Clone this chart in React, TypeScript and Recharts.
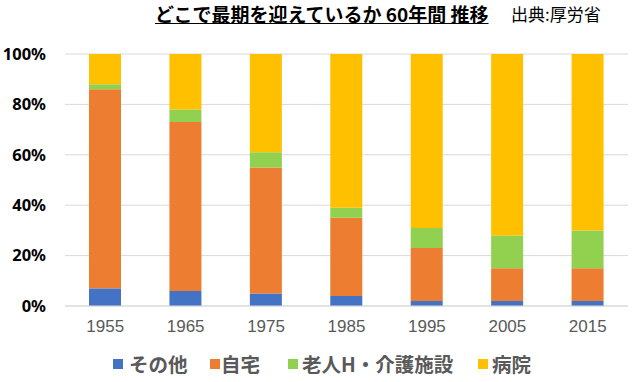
import React from 'react';
import { BarChart, Bar, XAxis, YAxis, CartesianGrid } from 'recharts';

const years = ['1955', '1965', '1975', '1985', '1995', '2005', '2015'];
const other = [7, 6, 5, 4, 2, 2, 2];
const home = [79, 67, 50, 31, 21, 13, 13];
const nursing = [2, 5, 6, 4, 8, 13, 15];
const hospital = [12, 22, 39, 61, 69, 72, 70];
const yTicks = [0, 0.2, 0.4, 0.6, 0.8, 1];

const series = [
  { key: 'other', name: 'その他', color: '#4472C4' },
  { key: 'home', name: '自宅', color: '#ED7D31' },
  { key: 'nursing', name: '老人H・介護施設', color: '#92D050' },
  { key: 'hospital', name: '病院', color: '#FFC000' },
];

// legend item left edges (square, text)
const legendX = [
  [113, 129],
  [210, 221],
  [288, 302],
  [478, 492],
];

const data = years.map((year, i) => {
  const total = other[i] + home[i] + nursing[i] + hospital[i];
  return {
    year,
    other: other[i] / total,
    home: home[i] / total,
    nursing: nursing[i] / total,
    hospital: hospital[i] / total,
  };
});

const jp = '"Noto Sans CJK JP", "Noto Sans", sans-serif';

export default function App() {
  return (
    <div style={{ position: 'absolute', left: 0, top: 0, width: 638, height: 382, background: '#fff' }}>
      <div style={{ position: 'absolute', left: 155, top: 1, fontFamily: jp, fontWeight: 700, fontSize: 19, lineHeight: '25px', textDecoration: 'underline', color: '#000', whiteSpace: 'nowrap' }}>
        どこで最期を迎えているか 60年間 推移
      </div>
      <div style={{ position: 'absolute', left: 511, top: 1, fontFamily: jp, fontSize: 17, lineHeight: '25px', color: '#000', whiteSpace: 'nowrap' }}>
        出典:厚労省
      </div>
      <BarChart width={638} height={382} data={data} margin={{ top: 54, right: 10, bottom: 36, left: 0 }} barSize={32}>
        <CartesianGrid vertical={false} stroke="#d9d9d9" />
        <XAxis
          dataKey="year"
          axisLine={{ stroke: '#d9d9d9' }}
          tickLine={false}
          tickSize={0}
          tickMargin={14}
          height={40}
          tick={{ fill: '#595959', fontSize: 17, fontFamily: '"Liberation Sans", Arial, sans-serif' }}
        />
        <YAxis
          domain={[0, 1]}
          ticks={yTicks}
          width={65}
          axisLine={false}
          tickLine={false}
          tickSize={0}
          tickMargin={19}
          tickFormatter={(v: number) => `${Math.round(v * 100)}%`}
          tick={{ fill: '#000', fontSize: 16.5, fontWeight: 700, fontFamily: '"Noto Sans", sans-serif' }}
        />
        {series.map((s) => (
          <Bar key={s.key} dataKey={s.key} name={s.name} stackId="a" fill={s.color} isAnimationActive={false} />
        ))}
      </BarChart>
      {series.map((s, i) => (
        <React.Fragment key={s.key}>
          <div style={{ position: 'absolute', left: legendX[i][0], top: 359, width: 10, height: 10, background: s.color }} />
          <div style={{ position: 'absolute', left: legendX[i][1], top: 349, lineHeight: '30px', fontFamily: jp, fontWeight: 700, fontSize: 19.5, color: '#595959', whiteSpace: 'nowrap' }}>
            {s.name}
          </div>
        </React.Fragment>
      ))}
    </div>
  );
}
